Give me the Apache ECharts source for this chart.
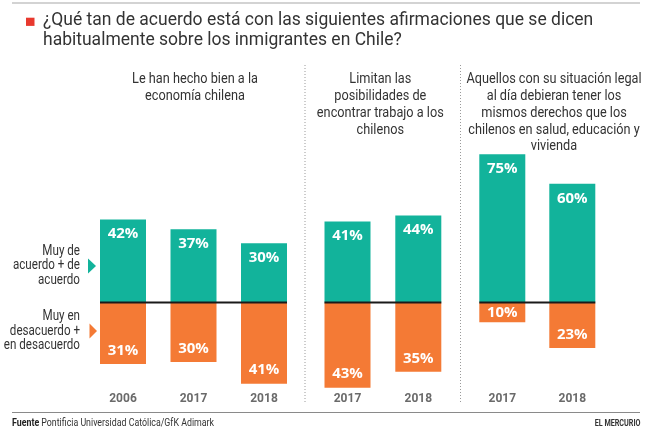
<!DOCTYPE html>
<html>
<head>
<meta charset="utf-8">
<script src="https://cdn.jsdelivr.net/npm/echarts@6/dist/echarts.min.js"></script>
<style>
html,body{margin:0;padding:0;background:#fff;}
#c{width:652px;height:442px;}
</style>
</head>
<body>
<div id="c"></div>
<script>
// ---- data ----
const titleText = '¿Qué tan de acuerdo está con las siguientes afirmaciones que se dicen\nhabitualmente sobre los inmigrantes en Chile?';
const panelTitles = [
  'Le han hecho bien a la\neconomía chilena',
  'Limitan las\nposibilidades de\nencontrar trabajo a los\nchilenos',
  'Aquellos con su situación legal\nal día debieran tener los\nmismos derechos que los\nchilenos en salud, educación y\nvivienda'
];
const years1 = ['2006', '2017', '2018'];
const agree1 = [42, 37, 30];
const disagree1 = [31, 30, 41];
const years2 = ['2017', '2018'];
const agree2 = [41, 44];
const disagree2 = [43, 35];
const years3 = ['2017', '2018'];
const agree3 = [75, 60];
const disagree3 = [10, 23];
const legendAgree = 'Muy de\nacuerdo + de\nacuerdo';
const legendDisagree = 'Muy en\ndesacuerdo +\nen desacuerdo';
const sourceLabel = 'Fuente';
const sourceText = ' Pontificia Universidad Católica/GfK Adimark';
const brand = 'EL MERCURIO';

// ---- styles ----
const TEAL = '#12b39b';
const ORANGE = '#f47a35';
const FONT = 'Roboto, "Noto Sans", sans-serif';
const LABELFONT = '"Open Sans", Roboto, sans-serif';
const BARW = 46;
const NARROWX = 0.82;

const panels = [
  {years: years1, agree: agree1, disagree: disagree1, left: 87.75, width: 211.5},
  {years: years2, agree: agree2, disagree: disagree2, left: 312.1, width: 141.6},
  {years: years3, agree: agree3, disagree: disagree3, left: 467.3, width: 140}
];
const GTOP = 144.3, GH = 247.3;

const grids = [], xAxes = [], yAxes = [], series = [];
panels.forEach((p, i) => {
  grids.push({left: p.left, top: GTOP, width: p.width, height: GH, containLabel: false});
  xAxes.push({
    type: 'category', gridIndex: i, data: p.years,
    axisLine: {show: false}, axisTick: {show: false}, splitLine: {show: false},
    axisLabel: {color: '#6a6a6a', fontFamily: FONT, fontWeight: 'bold', fontSize: 12, margin: 7.8, verticalAlign: 'middle'}
  });
  yAxes.push({type: 'value', gridIndex: i, min: -45, max: 80, show: false, splitLine: {show: false}});
  series.push({
    type: 'bar', xAxisIndex: i, yAxisIndex: i, data: p.agree, barWidth: BARW, barGap: '-100%',
    itemStyle: {color: TEAL}, silent: true,
    label: {show: true, position: 'insideTop', distance: 7, color: '#fff', fontFamily: LABELFONT, fontWeight: 'bold', fontSize: 15,
      formatter: o => Math.abs(o.value) + '%'}
  });
  series.push({
    type: 'bar', xAxisIndex: i, yAxisIndex: i, barWidth: BARW, barGap: '-100%',
    data: p.disagree.map(v => (v < 15 ? {value: -v, label: {position: 'inside'}} : -v)),
    itemStyle: {color: ORANGE}, silent: true,
    label: {show: true, position: 'insideBottom', distance: 6, color: '#fff', fontFamily: LABELFONT, fontWeight: 'bold', fontSize: 15,
      formatter: o => Math.abs(o.value) + '%'}
  });
  const n = p.years.length;
  series.push({
    type: 'custom', xAxisIndex: i, yAxisIndex: i, z: 10, silent: true,
    data: [[0, 0]],
    renderItem: (params, api) => {
      const a = api.coord([0, 0]);
      const b = api.coord([n - 1, 0]);
      return {type: 'line', shape: {x1: a[0] - BARW / 2, y1: a[1], x2: b[0] + BARW / 2, y2: b[1]},
        style: {stroke: '#1a1a1a', lineWidth: 2}};
    }
  });
});

const panelCenters = [195, 380.3, 554];
const graphics = [
  {type: 'line', shape: {x1: 12, y1: 3, x2: 640, y2: 3}, style: {stroke: '#c4c4c4', lineWidth: 1.5}},
  {type: 'rect', shape: {x: 26, y: 17.7, width: 8.5, height: 8.2}, style: {fill: '#e8392e'}},
  {type: 'text', x: 43, y: 10.5, style: {text: titleText, font: '17.5px ' + FONT, fill: '#333', lineHeight: 20, align: 'left', verticalAlign: 'top'}},
  {type: 'line', shape: {x1: 305, y1: 65, x2: 305, y2: 403}, style: {stroke: '#9a9a9a', lineWidth: 1, lineDash: [1, 2]}},
  {type: 'line', shape: {x1: 460.5, y1: 65, x2: 460.5, y2: 403}, style: {stroke: '#9a9a9a', lineWidth: 1, lineDash: [1, 2]}},
  {type: 'text', x: 80, y: 265.8, scaleX: 0.83, style: {text: legendAgree, font: '14px ' + FONT, fill: '#333', lineHeight: 14.2, align: 'right', verticalAlign: 'middle'}},
  {type: 'text', x: 80, y: 331.2, scaleX: 0.83, style: {text: legendDisagree, font: '14px ' + FONT, fill: '#333', lineHeight: 14.5, align: 'right', verticalAlign: 'middle'}},
  {type: 'polygon', shape: {points: [[88, 258.5], [96, 266], [88, 273.5]]}, style: {fill: TEAL}},
  {type: 'polygon', shape: {points: [[89.5, 323.5], [97, 331], [89.5, 338.5]]}, style: {fill: ORANGE}},
  {type: 'line', shape: {x1: 12, y1: 412.5, x2: 640, y2: 412.5}, style: {stroke: '#8a8a8a', lineWidth: 1}},
  {type: 'text', x: 12, y: 423.3, scaleX: 0.84, style: {text: '{b|' + sourceLabel + '}{r|' + sourceText + '}', verticalAlign: 'middle', align: 'left',
    rich: {b: {font: 'bold 10.5px ' + FONT, fill: '#222'}, r: {font: '10.5px ' + FONT, fill: '#333'}}}},
  {type: 'text', x: 640.5, y: 424, scaleX: 0.8, style: {text: brand, font: 'bold 9px ' + FONT, fill: '#333', align: 'right', verticalAlign: 'middle'}}
];
panelTitles.forEach((t, i) => {
  graphics.push({type: 'text', x: panelCenters[i], y: 71, scaleX: NARROWX, style: {text: t, font: '15.5px ' + FONT, fill: '#333', lineHeight: 16.8, align: 'center', verticalAlign: 'top'}});
});

const chart = echarts.init(document.getElementById('c'), null, {renderer: 'canvas'});
chart.setOption({
  animation: false,
  backgroundColor: '#fff',
  grid: grids,
  xAxis: xAxes,
  yAxis: yAxes,
  series: series,
  graphic: graphics
});
</script>
</body>
</html>
